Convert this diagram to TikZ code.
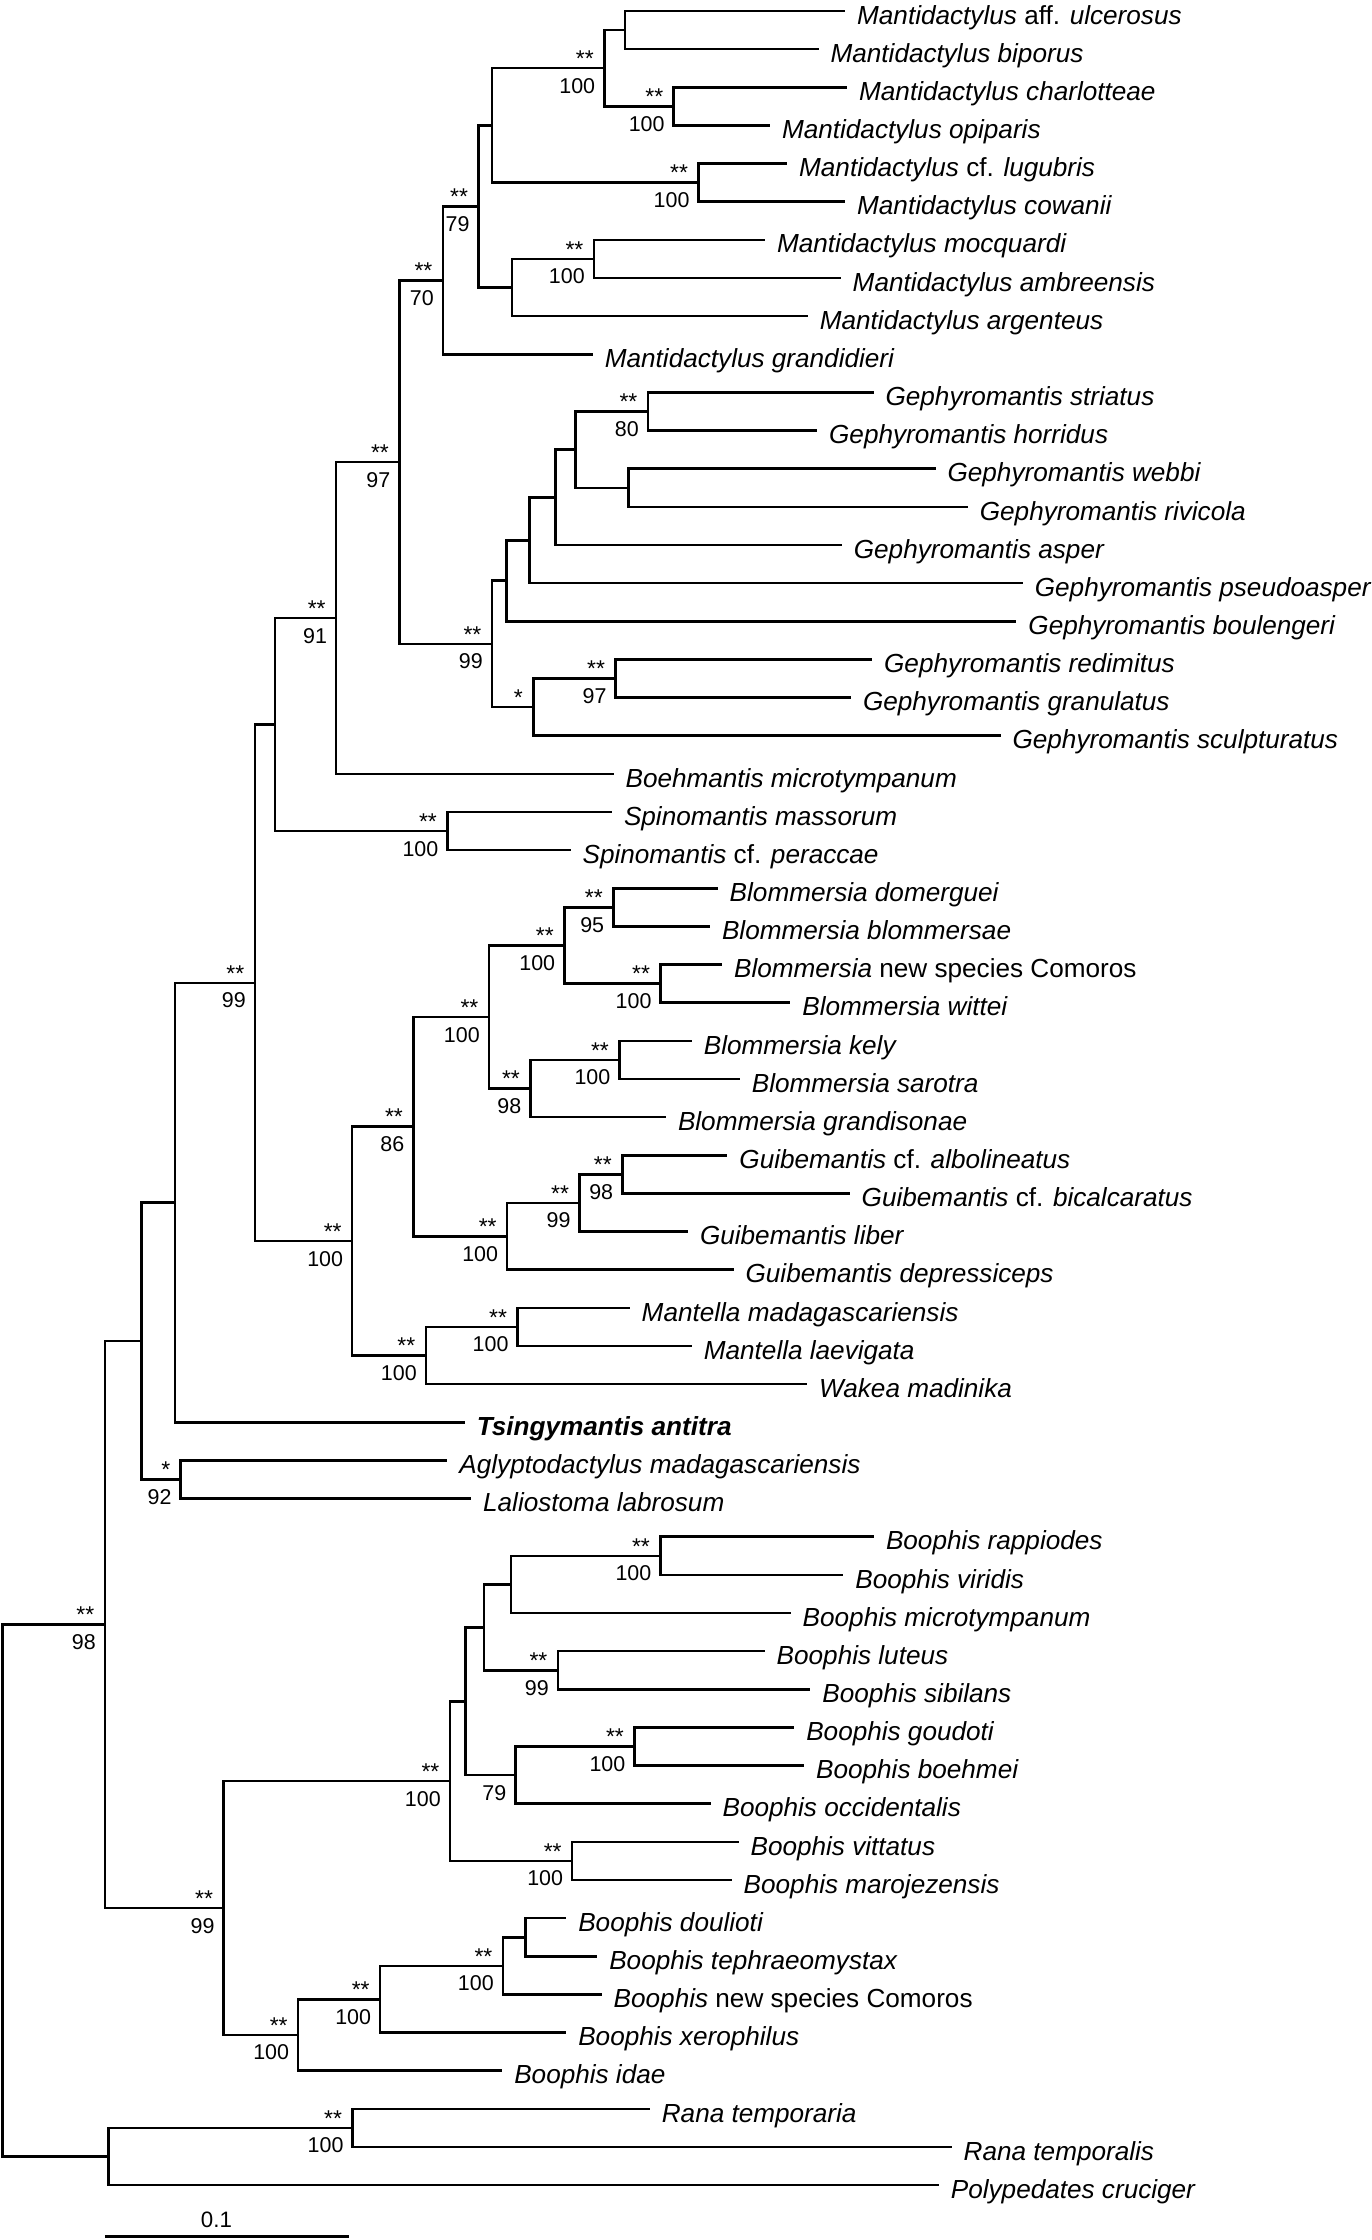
\documentclass[tikz,border=0pt]{standalone}
\usepackage{fontspec}
\setmainfont{Liberation Sans}
\begin{document}
\begin{tikzpicture}[x=0.5pt,y=-0.5pt,
  br/.style={line width=0.9pt},
  tax/.style={anchor=base west, inner sep=0pt, xshift=4pt, yshift=-4.6pt, font=\fontsize{9.15}{10}\selectfont\itshape},
  sa/.style={anchor=base east, inner sep=0pt, xshift=-3.5pt, yshift=0.6pt, font=\fontsize{8}{8}\selectfont},
  sb/.style={anchor=base east, inner sep=0pt, xshift=-3pt, yshift=-8.75pt, font=\fontsize{7.5}{8}\selectfont}]
\fill[white] (0,0) rectangle (960,1568);
\useasboundingbox (0,0) rectangle (960,1568);
% ---------- tips ----------
\coordinate (t1) at (591.6,7.7);    \node[tax] (n1) at (t1) {Mantidactylus \textup{aff.} ulcerosus};
\coordinate (t2) at (573,34.4);     \node[tax] (n2) at (t2) {Mantidactylus biporus};
\coordinate (t3) at (593,61.1);     \node[tax] (n3) at (t3) {Mantidactylus charlotteae};
\coordinate (t4) at (539,87.8);     \node[tax] (n4) at (t4) {Mantidactylus opiparis};
\coordinate (t5) at (551,114.5);    \node[tax] (n5) at (t5) {Mantidactylus \textup{cf.} lugubris};
\coordinate (t6) at (591.6,141.2);  \node[tax] (n6) at (t6) {Mantidactylus cowanii};
\coordinate (t7) at (535.5,167.9);  \node[tax] (n7) at (t7) {Mantidactylus mocquardi};
\coordinate (t8) at (588.5,194.6);  \node[tax] (n8) at (t8) {Mantidactylus ambreensis};
\coordinate (t9) at (565.5,221.3);  \node[tax] (n9) at (t9) {Mantidactylus argenteus};
\coordinate (t10) at (415,248.0);   \node[tax] (n10) at (t10) {Mantidactylus grandidieri};
\coordinate (t11) at (611.5,274.7); \node[tax] (n11) at (t11) {Gephyromantis striatus};
\coordinate (t12) at (572,301.4);   \node[tax] (n12) at (t12) {Gephyromantis horridus};
\coordinate (t13) at (654.9,328.1); \node[tax] (n13) at (t13) {Gephyromantis webbi};
\coordinate (t14) at (677.5,354.8); \node[tax] (n14) at (t14) {Gephyromantis rivicola};
\coordinate (t15) at (589.3,381.5); \node[tax] (n15) at (t15) {Gephyromantis asper};
\coordinate (t16) at (716,408.2);   \node[tax] (n16) at (t16) {Gephyromantis pseudoasper};
\coordinate (t17) at (711.5,434.9); \node[tax] (n17) at (t17) {Gephyromantis boulengeri};
\coordinate (t18) at (610.5,461.6); \node[tax] (n18) at (t18) {Gephyromantis redimitus};
\coordinate (t19) at (595.7,488.3); \node[tax] (n19) at (t19) {Gephyromantis granulatus};
\coordinate (t20) at (700.4,515.0); \node[tax] (n20) at (t20) {Gephyromantis sculpturatus};
\coordinate (t21) at (429.5,541.7); \node[tax] (n21) at (t21) {Boehmantis microtympanum};
\coordinate (t22) at (428.4,568.4); \node[tax] (n22) at (t22) {Spinomantis massorum};
\coordinate (t23) at (399.4,595.1); \node[tax] (n23) at (t23) {Spinomantis \textup{cf.} peraccae};
\coordinate (t24) at (502.4,621.8); \node[tax] (n24) at (t24) {Blommersia domerguei};
\coordinate (t25) at (497,648.5);   \node[tax] (n25) at (t25) {Blommersia blommersae};
\coordinate (t26) at (505.5,675.2); \node[tax] (n26) at (t26) {Blommersia \textup{new species Comoros}};
\coordinate (t27) at (553.3,701.9); \node[tax] (n27) at (t27) {Blommersia wittei};
\coordinate (t28) at (484.3,728.6); \node[tax] (n28) at (t28) {Blommersia kely};
\coordinate (t29) at (517.9,755.3); \node[tax] (n29) at (t29) {Blommersia sarotra};
\coordinate (t30) at (466.2,782.0); \node[tax] (n30) at (t30) {Blommersia grandisonae};
\coordinate (t31) at (509.2,808.7); \node[tax] (n31) at (t31) {Guibemantis \textup{cf.} albolineatus};
\coordinate (t32) at (594.8,835.4); \node[tax] (n32) at (t32) {Guibemantis \textup{cf.} bicalcaratus};
\coordinate (t33) at (481.6,862.1); \node[tax] (n33) at (t33) {Guibemantis liber};
\coordinate (t34) at (513.5,888.8); \node[tax] (n34) at (t34) {Guibemantis depressiceps};
\coordinate (t35) at (440.8,915.5); \node[tax] (n35) at (t35) {Mantella madagascariensis};
\coordinate (t36) at (484.3,942.2); \node[tax] (n36) at (t36) {Mantella laevigata};
\coordinate (t37) at (565,968.9);   \node[tax] (n37) at (t37) {Wakea madinika};
\coordinate (t38) at (325.4,995.6); \node[tax] (n38) at (t38) {\textbf{Tsingymantis antitra}};
\coordinate (t39) at (313.2,1022.3);\node[tax] (n39) at (t39) {Aglyptodactylus madagascariensis};
\coordinate (t40) at (329.8,1049.0);\node[tax] (n40) at (t40) {Laliostoma labrosum};
\coordinate (t41) at (611.8,1075.7);\node[tax] (n41) at (t41) {Boophis rappiodes};
\coordinate (t42) at (590.4,1102.4);\node[tax] (n42) at (t42) {Boophis viridis};
\coordinate (t43) at (553.5,1129.1);\node[tax] (n43) at (t43) {Boophis microtympanum};
\coordinate (t44) at (535.3,1155.8);\node[tax] (n44) at (t44) {Boophis luteus};
\coordinate (t45) at (567.3,1182.5);\node[tax] (n45) at (t45) {Boophis sibilans};
\coordinate (t46) at (556,1209.2);  \node[tax] (n46) at (t46) {Boophis goudoti};
\coordinate (t47) at (562.9,1235.9);\node[tax] (n47) at (t47) {Boophis boehmei};
\coordinate (t48) at (497.4,1262.6);\node[tax] (n48) at (t48) {Boophis occidentalis};
\coordinate (t49) at (517,1289.3);  \node[tax] (n49) at (t49) {Boophis vittatus};
\coordinate (t50) at (512.2,1316.0);\node[tax] (n50) at (t50) {Boophis marojezensis};
\coordinate (t51) at (396.4,1342.7);\node[tax] (n51) at (t51) {Boophis doulioti};
\coordinate (t52) at (418.1,1369.4);\node[tax] (n52) at (t52) {Boophis tephraeomystax};
\coordinate (t53) at (421.2,1396.1);\node[tax] (n53) at (t53) {Boophis \textup{new species Comoros}};
\coordinate (t54) at (396.4,1422.8);\node[tax] (n54) at (t54) {Boophis xerophilus};
\coordinate (t55) at (351.6,1449.5);\node[tax] (n55) at (t55) {Boophis idae};
\coordinate (t56) at (454.9,1476.2);\node[tax] (n56) at (t56) {Rana temporaria};
\coordinate (t57) at (666.2,1502.9);\node[tax] (n57) at (t57) {Rana temporalis};
\coordinate (t58) at (657.2,1529.6);\node[tax] (n58) at (t58) {Polypedates cruciger};
% ---------- internal nodes ----------
\coordinate (A) at (437.5,21.05);
\coordinate (B) at (471.6,74.45);
\coordinate (C) at (423,47.75);
\coordinate (D) at (489,127.85);
\coordinate (E) at (344.5,87.8);
\coordinate (F) at (415.7,181.25);
\coordinate (G) at (358.5,201.28);
\coordinate (H) at (335,144.54);
\coordinate (I) at (310,196.27);
\coordinate (L) at (453.5,288.05);
\coordinate (M) at (440,341.45);
\coordinate (N) at (402.7,314.75);
\coordinate (O) at (388.8,348.13);
\coordinate (P) at (370.6,378.16);
\coordinate (Q) at (354.5,406.53);
\coordinate (R) at (430.9,474.95);
\coordinate (S) at (373.3,494.98);
\coordinate (K2) at (344.3,450.75);
\coordinate (J) at (279.6,323.51);
\coordinate (K) at (235.3,432.6);
\coordinate (U) at (313.2,581.75);
\coordinate (T) at (192.6,507.18);
\coordinate (W1) at (429.3,635.15);
\coordinate (W2) at (462.4,688.55);
\coordinate (W3) at (395,661.85);
\coordinate (W4) at (433.6,741.95);
\coordinate (W5) at (371.3,761.98);
\coordinate (W6) at (342.2,711.91);
\coordinate (G1) at (435.6,822.05);
\coordinate (G2) at (405.7,842.08);
\coordinate (G3) at (355,865.44);
\coordinate (W7) at (289.4,788.67);
\coordinate (Y1) at (362.3,928.85);
\coordinate (Y2) at (298.1,948.88);
\coordinate (X) at (246.5,868.77);
\coordinate (V) at (178.4,687.98);
\coordinate (Z1) at (122.4,841.79);
\coordinate (Z) at (126.5,1035.65);
\coordinate (Z2) at (99,938.72);
\coordinate (FF) at (462.3,1089.05);
\coordinate (EE) at (357.7,1109.08);
\coordinate (GG) at (390.5,1169.15);
\coordinate (DD) at (338.9,1139.11);
\coordinate (HH) at (444.1,1222.55);
\coordinate (II) at (360.8,1242.58);
\coordinate (CC) at (325.8,1190.84);
\coordinate (JJ) at (400.5,1302.65);
\coordinate (BB) at (314.9,1246.75);
\coordinate (OO) at (367.8,1356.05);
\coordinate (NN) at (352,1376.08);
\coordinate (MM) at (266.1,1399.44);
\coordinate (LL) at (208.7,1424.47);
\coordinate (KK) at (156.5,1335.61);
\coordinate (AA) at (73.4,1137.17);
\coordinate (PP) at (246.8,1489.55);
\coordinate (QQ) at (75.9,1509.58);
\coordinate (Root) at (1.6,1323.4);
% ---------- branches ----------
\foreach \p/\c in {A/t1,A/t2,B/t3,B/t4,C/A,C/B,D/t5,D/t6,E/C,E/D,F/t7,F/t8,G/F,G/t9,H/E,H/G,I/H,I/t10,
  L/t11,L/t12,M/t13,M/t14,N/L,N/M,O/N,O/t15,P/O,P/t16,Q/P,Q/t17,R/t18,R/t19,S/R,S/t20,K2/Q,K2/S,J/I,J/K2,K/J,K/t21,
  U/t22,U/t23,T/K,T/U,
  W1/t24,W1/t25,W2/t26,W2/t27,W3/W1,W3/W2,W4/t28,W4/t29,W5/W4,W5/t30,W6/W3,W6/W5,
  G1/t31,G1/t32,G2/G1,G2/t33,G3/G2,G3/t34,W7/W6,W7/G3,Y1/t35,Y1/t36,Y2/Y1,Y2/t37,X/W7,X/Y2,V/T,V/X,
  Z1/V,Z1/t38,Z/t39,Z/t40,Z2/Z1,Z2/Z,
  FF/t41,FF/t42,EE/FF,EE/t43,GG/t44,GG/t45,DD/EE,DD/GG,HH/t46,HH/t47,II/HH,II/t48,CC/DD,CC/II,
  JJ/t49,JJ/t50,BB/CC,BB/JJ,OO/t51,OO/t52,NN/OO,NN/t53,MM/NN,MM/t54,LL/MM,LL/t55,KK/BB,KK/LL,
  AA/Z2,AA/KK,PP/t56,PP/t57,QQ/PP,QQ/t58,Root/AA,Root/QQ}
  {\draw[br] (\p) |- (\c);}
% ---------- support values ----------
\foreach \n/\a/\b in {B/**/100,C/**/100,D/**/100,F/**/100,H/**/79,I/**/70,L/**/80,R/**/97,K2/**/99,J/**/97,K/**/91,
  U/**/100,W1/**/95,W2/**/100,W3/**/100,W4/**/100,W5/**/98,W6/**/100,G1/**/98,G2/**/99,G3/**/100,W7/**/86,
  Y1/**/100,Y2/**/100,X/**/100,V/**/99,Z/*/92,FF/**/100,GG/**/99,HH/**/100,JJ/**/100,BB/**/100,NN/**/100,
  MM/**/100,LL/**/100,KK/**/99,AA/**/98,PP/**/100}
  {\node[sa] (s\n) at (\n) {\a}; \node[sb] (b\n) at (\n) {\b};}
\node[sa] (sS) at (S) {*};
\node[sb] (bII) at (II) {79};
% ---------- scale bar ----------
\coordinate (sb1) at (73.4,1565.5);
\coordinate (sb2) at (244.3,1565.5);
\draw[br] (sb1) -- (sb2);
\node[anchor=base, inner sep=0pt, font=\fontsize{7.8}{8}\selectfont] (sbl) at (151.5,1559) {0.1};
\end{tikzpicture}
\end{document}
